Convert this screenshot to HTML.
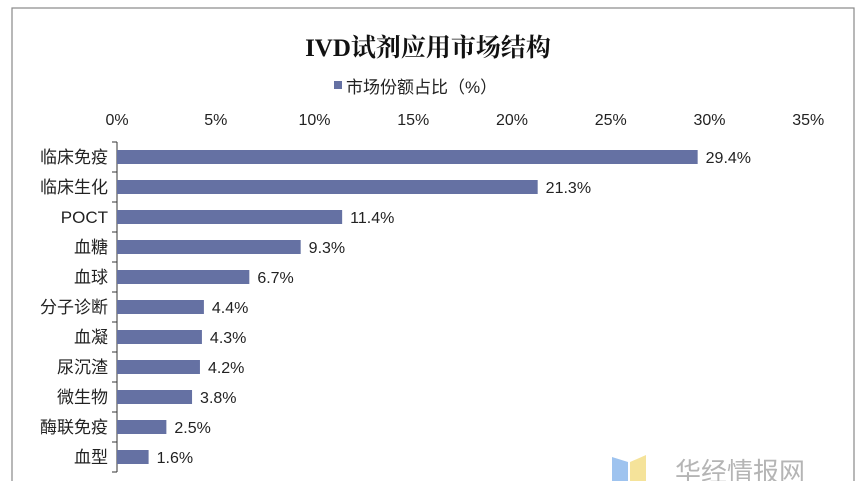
<!DOCTYPE html>
<html><head><meta charset="utf-8"><style>
body{margin:0;background:#fff;width:860px;height:481px;overflow:hidden;font-family:"Liberation Sans","Noto Sans CJK SC",sans-serif}
</style></head><body>
<svg width="860" height="481">
<rect x="12" y="8" width="842" height="480" fill="#fff" stroke="#888" stroke-width="1.2"/>
<text x="428" y="56" text-anchor="middle" font-family="'Liberation Serif','Noto Serif CJK SC',serif" font-weight="bold" font-size="25" fill="#111">IVD试剂应用市场结构</text>
<g><rect x="334" y="81" width="8" height="8" fill="#6571a3"/><text x="346" y="93" font-size="17" fill="#222">市场份额占比（%）</text></g>
<g id="ax"></g><g id="bars"></g>
<g><path d="M612 457 L628 462 L628 481 L612 481Z" fill="#9ec3ef"/><path d="M630 462 L646 455 L646 481 L630 481Z" fill="#f5e39a"/><text x="675" y="481" font-size="26" fill="#b5b5b5">华经情报网</text></g>
</svg>
<script>
const categories=["临床免疫","临床生化","POCT","血糖","血球","分子诊断","血凝","尿沉渣","微生物","酶联免疫","血型"];
const values=[29.4,21.3,11.4,9.3,6.7,4.4,4.3,4.2,3.8,2.5,1.6];
const ticks=[0,5,10,15,20,25,30,35];
const NS="http://www.w3.org/2000/svg";
const x0=117,pxPer=19.75,y0=142,step=30;
const xs=v=>x0+v*pxPer, yc=i=>y0+step*i+15;
function mk(t,a,p){const e=document.createElementNS(NS,t);for(const k in a)e.setAttribute(k,a[k]);p.appendChild(e);return e;}
const ax=document.getElementById('ax'),bars=document.getElementById('bars');
ticks.forEach(t=>{const e=mk('text',{x:xs(t),y:125,'text-anchor':'middle','font-size':16,fill:'#222'},ax);e.textContent=t+'%';

});
const al=mk('line',{x1:x0,x2:x0,y1:y0,y2:y0+step*categories.length,stroke:'#333','stroke-width':1},ax);


for(let i=0;i<=categories.length;i++)mk('line',{x1:x0-5,x2:x0,y1:y0+step*i,y2:y0+step*i,stroke:'#333'},ax);
categories.forEach((c,i)=>{
const l=mk('text',{x:x0-9,y:yc(i)+6,'text-anchor':'end','font-size':17,fill:'#222'},ax);l.textContent=c;


const b=mk('rect',{x:x0,y:yc(i)-7,width:xs(values[i])-x0,height:14,fill:'#6571a3'},bars);


const v=mk('text',{x:xs(values[i])+8,y:yc(i)+6,'font-size':16,fill:'#222'},bars);v.textContent=values[i].toFixed(1)+'%';


});
</script>
</body></html>
